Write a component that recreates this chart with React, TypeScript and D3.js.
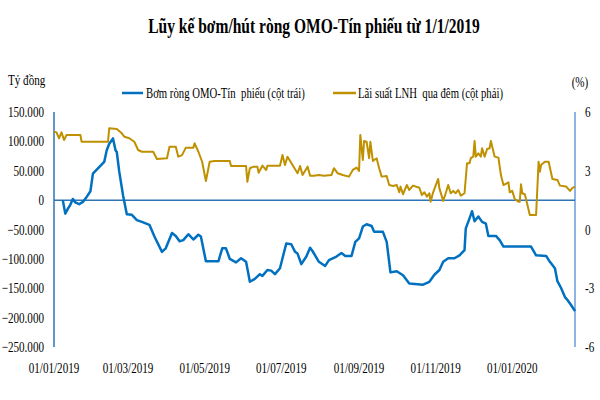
import React from 'react';
import * as d3 from 'd3';

// Cumulative net OMO / T-bill injection (left axis, billion VND)
const omoDates = [
  '2019-01-08', '2019-01-10', '2019-01-12', '2019-01-14', '2019-01-16', '2019-01-18', '2019-01-21',
  '2019-01-24', '2019-01-27', '2019-01-30', '2019-02-01', '2019-02-05', '2019-02-10', '2019-02-12',
  '2019-02-14', '2019-02-16', '2019-02-17', '2019-02-19', '2019-02-20', '2019-02-22', '2019-02-25',
  '2019-02-28', '2019-03-04', '2019-03-08', '2019-03-12', '2019-03-18', '2019-03-22', '2019-03-28',
  '2019-03-31', '2019-04-05', '2019-04-08', '2019-04-11', '2019-04-14', '2019-04-18', '2019-04-22',
  '2019-04-26', '2019-04-28', '2019-05-02', '2019-05-12', '2019-05-15', '2019-05-18', '2019-05-21',
  '2019-05-26', '2019-05-30', '2019-06-03', '2019-06-06', '2019-06-10', '2019-06-14', '2019-06-16',
  '2019-06-20', '2019-06-23', '2019-06-26', '2019-06-30', '2019-07-02', '2019-07-05', '2019-07-09',
  '2019-07-12', '2019-07-14', '2019-07-17', '2019-07-21', '2019-07-24', '2019-07-26', '2019-07-31',
  '2019-08-05', '2019-08-08', '2019-08-14', '2019-08-18', '2019-08-21', '2019-08-26', '2019-08-29',
  '2019-09-01', '2019-09-04', '2019-09-07', '2019-09-11', '2019-09-13', '2019-09-20', '2019-09-23',
  '2019-09-26', '2019-10-01', '2019-10-06', '2019-10-11', '2019-10-22', '2019-10-27', '2019-10-31',
  '2019-11-04', '2019-11-07', '2019-11-11', '2019-11-16', '2019-11-20', '2019-11-24', '2019-11-25',
  '2019-11-28', '2019-11-30', '2019-12-02', '2019-12-05', '2019-12-08', '2019-12-11', '2019-12-13',
  '2019-12-19', '2019-12-22', '2019-12-25', '2020-01-16', '2020-01-20', '2020-01-28', '2020-01-31',
  '2020-02-04', '2020-02-06', '2020-02-09', '2020-02-12', '2020-02-14', '2020-02-17', '2020-02-20',
];
const omoValues = [
  0, -23000, -15000, -8000, 2000, -4000, -7000,
  -3000, 5500, 15000, 45000, 54000, 65000, 85000,
  96000, 102000, 105000, 85000, 82000, 48000, 8000,
  -24000, -25000, -34000, -37000, -42000, -62000, -88000,
  -82000, -56000, -61000, -70000, -68000, -58000, -67000,
  -59000, -62000, -104000, -104000, -82000, -82000, -100000,
  -106000, -99000, -105000, -139000, -134000, -126000, -129000,
  -119000, -120000, -126000, -116000, -99000, -74000, -75000,
  -88000, -91000, -109000, -96000, -81000, -87000, -105000,
  -112000, -102000, -96000, -90000, -95000, -95000, -71000,
  -65000, -45000, -41000, -44000, -54000, -54000, -71000,
  -123000, -121000, -128000, -142000, -144000, -139000, -127000,
  -119000, -105000, -99000, -99000, -94000, -85000, -48000,
  -31000, -19000, -36000, -28000, -37000, -40000, -61000,
  -61000, -68000, -79000, -79000, -94000, -95000, -105000,
  -116000, -138000, -150000, -165000, -170000, -179000, -189000,
];

// Overnight interbank rate (right axis, %)
const rateDates = [
  '2019-01-01', '2019-01-03', '2019-01-05', '2019-01-07', '2019-01-09', '2019-01-11', '2019-01-22',
  '2019-01-23', '2019-02-13', '2019-02-14', '2019-02-20', '2019-02-24', '2019-02-26', '2019-03-02',
  '2019-03-06', '2019-03-09', '2019-03-12', '2019-03-21', '2019-03-24', '2019-04-01', '2019-04-03',
  '2019-04-08', '2019-04-10', '2019-04-13', '2019-04-16', '2019-04-22', '2019-04-23', '2019-04-26',
  '2019-04-29', '2019-04-30', '2019-05-02', '2019-05-05', '2019-05-09', '2019-05-21', '2019-05-22',
  '2019-06-03', '2019-06-04', '2019-06-06', '2019-06-09', '2019-06-12', '2019-06-13', '2019-06-16',
  '2019-06-19', '2019-06-20', '2019-06-30', '2019-07-02', '2019-07-04', '2019-07-06', '2019-07-10',
  '2019-07-14', '2019-07-16', '2019-07-18', '2019-07-22', '2019-07-24', '2019-07-27', '2019-07-31',
  '2019-08-04', '2019-08-10', '2019-08-12', '2019-08-15', '2019-08-19', '2019-08-24', '2019-08-27',
  '2019-08-30', '2019-09-01', '2019-09-02', '2019-09-04', '2019-09-05', '2019-09-07', '2019-09-09',
  '2019-09-10', '2019-09-12', '2019-09-15', '2019-09-17', '2019-09-19', '2019-09-23', '2019-09-25',
  '2019-09-28', '2019-10-01', '2019-10-03', '2019-10-04', '2019-10-06', '2019-10-09', '2019-10-11',
  '2019-10-14', '2019-10-19', '2019-10-21', '2019-10-23', '2019-10-25', '2019-10-27', '2019-10-28',
  '2019-10-30', '2019-11-03', '2019-11-04', '2019-11-07', '2019-11-09', '2019-11-11', '2019-11-13',
  '2019-11-15', '2019-11-17', '2019-11-19', '2019-11-21', '2019-11-24', '2019-11-26', '2019-11-28',
  '2019-11-29', '2019-12-01', '2019-12-02', '2019-12-03', '2019-12-05', '2019-12-07', '2019-12-08',
  '2019-12-10', '2019-12-12', '2019-12-14', '2019-12-15', '2019-12-18', '2019-12-21', '2019-12-23',
  '2019-12-25', '2019-12-29', '2019-12-30', '2020-01-01', '2020-01-03', '2020-01-06', '2020-01-07',
  '2020-01-08', '2020-01-09', '2020-01-11', '2020-01-13', '2020-01-15', '2020-01-20', '2020-01-22',
  '2020-01-23', '2020-01-24', '2020-01-27', '2020-01-30', '2020-02-02', '2020-02-06', '2020-02-08',
  '2020-02-13', '2020-02-16', '2020-02-18', '2020-02-20',
];
const rateValues = [
  5.0, 4.96, 4.66, 4.96, 4.57, 4.83, 4.83,
  4.48, 4.48, 5.17, 5.13, 4.91, 4.74, 4.66,
  4.48, 4.06, 3.97, 3.97, 3.6, 3.64, 4.23,
  4.23, 3.72, 3.8, 4.18, 4.18, 4.4, 3.97,
  3.46, 3.13, 2.48, 3.46, 3.5, 3.5, 3.24,
  3.24, 2.44, 3.13, 3.21, 3.21, 2.9, 3.26,
  3.04, 3.26, 3.26, 3.8, 3.29, 3.72, 3.29,
  2.87, 3.24, 2.78, 3.21, 2.75, 2.75, 2.78,
  2.75, 2.78, 3.13, 2.87, 2.78, 2.7, 3.04,
  3.16, 2.99, 4.83, 3.55, 4.52, 4.48, 3.64,
  4.48, 3.5, 3.64, 3.13, 2.7, 2.73, 2.27,
  2.22, 2.27, 1.9, 2.19, 1.8, 2.27, 2.02,
  2.24, 2.13, 1.76, 1.9, 1.68, 1.85, 1.42,
  1.9, 2.58, 2.1, 1.46, 1.85, 2.27, 1.85,
  1.97, 1.85, 2.02, 1.73, 1.85, 3.38, 3.38,
  3.64, 3.72, 4.52, 3.72, 3.89, 3.72, 4.15,
  3.72, 4.11, 4.15, 4.52, 3.72, 3.67, 2.78,
  2.27, 2.41, 1.9, 1.97, 1.56, 1.42, 1.42,
  2.31, 1.85, 1.8, 1.29, 0.74, 0.74, 3.46,
  2.95, 3.29, 3.46, 3.46, 2.58, 2.53, 2.24,
  2.19, 1.97, 2.13, 2.19,
];

const leftTicks = [150000, 100000, 50000, 0, -50000, -100000, -150000, -200000, -250000];
const rightTicks = [6, 3, 0, -3, -6];
const xTickDates = ['2019-01-01', '2019-03-01', '2019-05-01', '2019-07-01', '2019-09-01', '2019-11-01', '2020-01-01'];

const title = 'Lũy kế bơm/hút ròng OMO-Tín phiếu từ 1/1/2019';
const omoLabel = 'Bơm ròng OMO-Tín  phiếu (cột trái)';
const rateLabel = 'Lãi suất LNH  qua đêm (cột phải)';

const BLUE = '#0070C0';
const GOLD = '#BF9000';
const FONT = '"Liberation Serif", "Times New Roman", serif';
const SX = 0.74; // the reference text is horizontally condensed

const parse = d3.timeParse('%Y-%m-%d');

function Txt(props: {
  x: number; y: number; size: number; anchor?: string; weight?: string; children: React.ReactNode;
}) {
  const { x, y, size, anchor = 'start', weight = 'normal', children } = props;
  return (
    <text
      transform={`translate(${x},${y}) scale(${SX},1)`}
      fontSize={size}
      fontFamily={FONT}
      fontWeight={weight}
      textAnchor={anchor}
      fill="#000"
      style={{ whiteSpace: 'pre' }}
    >
      {children}
    </text>
  );
}

export default function App() {
  const left = 54;
  const right = 575;
  const top = 112;
  const bottom = 347;

  const x = d3.scaleTime().domain([parse('2019-01-01')!, parse('2020-02-20')!]).range([left, right]);
  const yL = d3.scaleLinear().domain([-250000, 150000]).range([bottom, top]);
  const yR = d3.scaleLinear().domain([-6, 6]).range([bottom, top]);

  const omo = omoDates.map((d, i) => ({ date: parse(d)!, value: omoValues[i] }));
  const rate = rateDates.map((d, i) => ({ date: parse(d)!, value: rateValues[i] }));

  const omoLine = d3
    .line<{ date: Date; value: number }>()
    .x((d) => x(d.date))
    .y((d) => yL(d.value));
  const rateLine = d3
    .line<{ date: Date; value: number }>()
    .x((d) => x(d.date))
    .y((d) => yR(d.value));

  const fmtLeft = (v: number) => (v === 0 ? '0' : d3.format(',')(v).replace(/,/g, '.'));
  const fmtDate = d3.timeFormat('%d/%m/%Y');

  return (
    <svg width={600} height={400} style={{ position: 'absolute', left: 0, top: 0, background: '#fff' }}>
      <Txt x={314} y={33} size={21} anchor="middle" weight="bold">{title}</Txt>

      <Txt x={8} y={85} size={15}>Tỷ đồng</Txt>
      <Txt x={580} y={87} size={15} anchor="middle">(%)</Txt>

      {/* legend */}
      <line x1={122} x2={143} y1={93} y2={93} stroke={BLUE} strokeWidth={2.5} />
      <Txt x={146} y={98} size={14.5}>{omoLabel}</Txt>
      <line x1={333} x2={356} y1={93} y2={93} stroke={GOLD} strokeWidth={2.5} />
      <Txt x={358} y={98} size={14.5}>{rateLabel}</Txt>

      {/* axes */}
      <line x1={left} x2={left} y1={top} y2={bottom} stroke="#2E75B6" strokeWidth={1.5} />
      <line x1={right} x2={right} y1={top} y2={bottom} stroke="#8DB4E2" strokeWidth={2} />
      <line x1={left} x2={right} y1={yL(0)} y2={yL(0)} stroke="#2E75B6" strokeWidth={1.5} />

      {leftTicks.map((t) => (
        <Txt key={t} x={44} y={yL(t) + 5} size={15} anchor="end">{fmtLeft(t)}</Txt>
      ))}
      {rightTicks.map((t) => (
        <Txt key={t} x={585} y={yR(t) + 5} size={15}>{String(t)}</Txt>
      ))}
      {xTickDates.map((d) => (
        <Txt key={d} x={x(parse(d)!)} y={373} size={15} anchor="middle">{fmtDate(parse(d)!)}</Txt>
      ))}

      <path d={rateLine(rate) ?? ''} fill="none" stroke={GOLD} strokeWidth={2} strokeLinejoin="round" />
      <path d={omoLine(omo) ?? ''} fill="none" stroke={BLUE} strokeWidth={2.5} strokeLinejoin="round" />
    </svg>
  );
}
